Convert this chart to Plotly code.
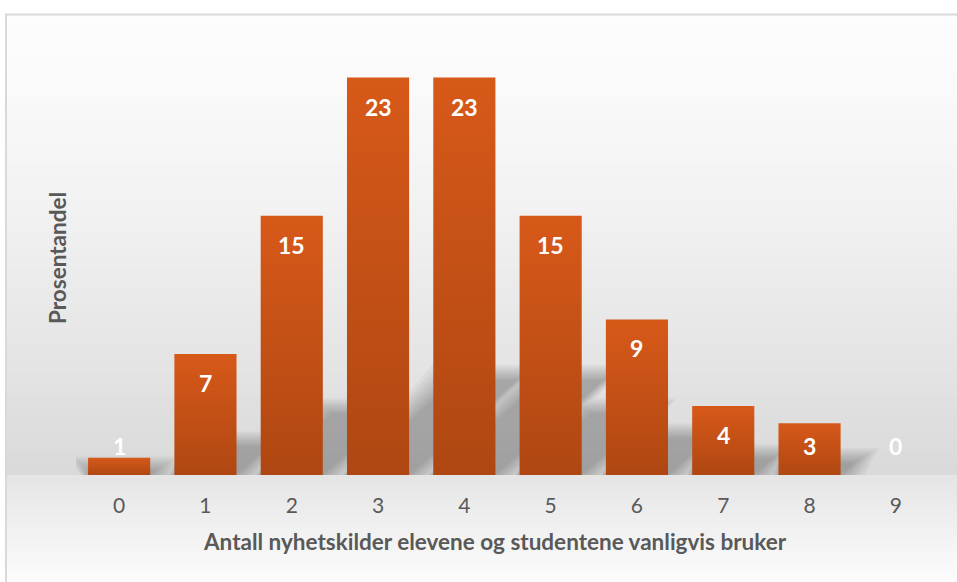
import plotly.graph_objects as go

# ---- data ----
categories = [0, 1, 2, 3, 4, 5, 6, 7, 8, 9]
tick_labels = ["0", "1", "2", "3", "4", "5", "6", "7", "8", "9"]
values = [1, 7, 15, 23, 23, 15, 9, 4, 3, 0]
x_title = "Antall nyhetskilder elevene og studentene vanligvis bruker"
y_title = "Prosentandel"

# ---- layout geometry (pixels) ----
W, H = 957, 582
L, R, T, B = 76, 939, 43, 475
Y_MAX = 25
FONT = "Lato, 'Open Sans', sans-serif"
TXT = "#595959"


def px_x(px):
    return (px - L) / (R - L)


def px_y(py):
    return (B - py) / (B - T)


fig = go.Figure()

# ---- soft perspective shadows behind the bars (layered for blur) ----
half = 0.36
n_layers = 8
for k in range(n_layers):
    grow = 0.28 * (n_layers - 1 - k) / (n_layers - 1)
    xs, ys = [], []
    for c, v in zip(categories, values):
        if v <= 0:
            continue
        h = 0.24 * v + grow * 3
        s = 0.055 * v
        xs += [c - half - grow * 0.3, c + half + grow, c + half + grow + s, c - half - grow + s,
               c - half - grow * 0.3, None]
        ys += [0, 0, h, h, 0, None]
    fig.add_trace(go.Scatter(
        x=xs, y=ys, mode="lines", fill="toself",
        fillcolor="rgba(0,0,0,0.037)", line=dict(width=0),
        hoverinfo="skip", showlegend=False,
    ))

# ---- bars (vertical gradient fill) ----
for c, v in zip(categories, values):
    fig.add_trace(go.Scatter(
        x=[c - half, c + half, c + half, c - half, c - half],
        y=[0, 0, v, v, 0],
        mode="lines", fill="toself", line=dict(width=0),
        fillcolor="#c4501a",
        fillgradient=dict(type="vertical", colorscale=[[0, "#af4712"], [1, "#d75919"]]),
        hoverinfo="skip", showlegend=False,
    ))

# ---- data labels ----
for c, v in zip(categories, values):
    fig.add_annotation(
        x=c, y=max(v, 3.36), text=f"<b>{v}</b>", showarrow=False,
        yshift=-29, font=dict(family=FONT, size=23, color="white"),
        xanchor="center", yanchor="middle",
    )

# ---- background gradient + frame ----
shapes = []
top_px, n_up = 15, 40
for i in range(n_up):
    y0 = top_px + (B - top_px) * i / n_up
    y1 = top_px + (B - top_px) * (i + 1) / n_up + 0.6
    t = (i + 0.5) / n_up
    g = round(253 - 36 * t ** 1.3)
    shapes.append(dict(type="rect", xref="paper", yref="paper", layer="below",
                       x0=px_x(6), x1=px_x(W + 5), y0=px_y(y1), y1=px_y(y0),
                       fillcolor=f"rgb({g},{g},{g})", line=dict(width=0)))
n_dn = 24
for i in range(n_dn):
    y0 = B + (H - B) * i / n_dn
    y1 = B + (H - B) * (i + 1) / n_dn + 0.6
    t = (i + 0.5) / n_dn
    g = round(229 + 23 * t)
    shapes.append(dict(type="rect", xref="paper", yref="paper", layer="below",
                       x0=px_x(6), x1=px_x(W + 5), y0=px_y(y1), y1=px_y(y0),
                       fillcolor=f"rgb({g},{g},{g})", line=dict(width=0)))
shapes.append(dict(type="rect", xref="paper", yref="paper", layer="above",
                   x0=px_x(6), x1=px_x(W + 40), y0=px_y(H + 40), y1=px_y(14.5),
                   fillcolor="rgba(0,0,0,0)", line=dict(color="#d9d9d9", width=2)))

# ---- axis titles ----
fig.add_annotation(xref="paper", yref="paper", x=px_x(495), y=px_y(541),
                   text=f"<b>{x_title}</b>", showarrow=False,
                   font=dict(family=FONT, size=22.5, color=TXT),
                   xanchor="center", yanchor="middle")
fig.add_annotation(xref="paper", yref="paper", x=px_x(57), y=px_y(258),
                   text=f"<b>{y_title}</b>", showarrow=False, textangle=-90,
                   font=dict(family=FONT, size=22.5, color=TXT),
                   xanchor="center", yanchor="middle")

fig.update_layout(
    width=W, height=H,
    margin=dict(l=L, r=W - R, t=T, b=H - B),
    paper_bgcolor="white", plot_bgcolor="rgba(0,0,0,0)",
    shapes=shapes, showlegend=False,
    xaxis=dict(range=[-0.5, 9.5], tickmode="array", tickvals=categories,
               ticktext=tick_labels, showgrid=False, zeroline=False,
               showline=False, ticks="", ticklabelstandoff=16,
               tickfont=dict(family=FONT, size=21, color=TXT), fixedrange=True),
    yaxis=dict(range=[0, Y_MAX], visible=False, fixedrange=True),
)

fig.write_html(
    "out.html",
    config={"displayModeBar": False},
    post_script="document.body.style.margin='0';document.body.style.overflow='hidden';",
)
